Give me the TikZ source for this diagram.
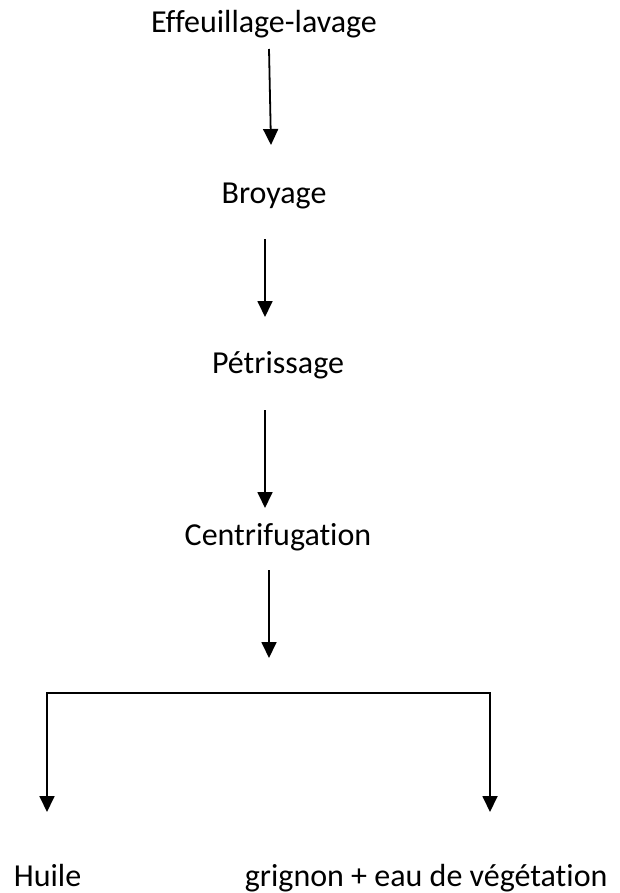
\documentclass[tikz,border=0pt]{standalone}
\usepackage{fontspec}
\setmainfont{Carlito}[Ligatures=NoCommon]
\usetikzlibrary{arrows.meta}
\begin{document}
\begin{tikzpicture}[x=1pt,y=-1pt,line width=1.8pt,>={Triangle[length=16pt,width=15pt]},
    every node/.style={inner sep=0pt,font=\fontsize{32}{38}\selectfont},
    result/.style={anchor=base west}]
  \useasboundingbox (0,0) rectangle (620,893);
  \node[anchor=base] (eff) at (264,33) {Effeuillage-lavage};
  \node[anchor=base] (bro) at (274,204) {Broyage};
  \node[anchor=base] (pet) at (278,373) {Pétrissage};
  \node[anchor=base] (cen) at (278,545) {Centrifugation};
  \node[result] (hui) at (13,886) {Huile};
  \node[result] (gri) at (244,886) {grignon + eau de végétation};

  \coordinate (a1) at (269,49);  \coordinate (b1) at (271,145);  \draw[->] (a1) -- (b1);
  \coordinate (a2) at (265,239); \coordinate (b2) at (265,317);  \draw[->] (a2) -- (b2);
  \coordinate (a3) at (265,410); \coordinate (b3) at (265,508);  \draw[->] (a3) -- (b3);
  \coordinate (a4) at (269,570); \coordinate (b4) at (269,658);  \draw[->] (a4) -- (b4);

  \coordinate (sl) at (47,693);  \coordinate (sr) at (490,693);
  \coordinate (hl) at (47,812);  \coordinate (hr) at (490,812);
  \draw[<->] (hl) -- (sl) -- (sr) -- (hr);
\end{tikzpicture}
\end{document}
